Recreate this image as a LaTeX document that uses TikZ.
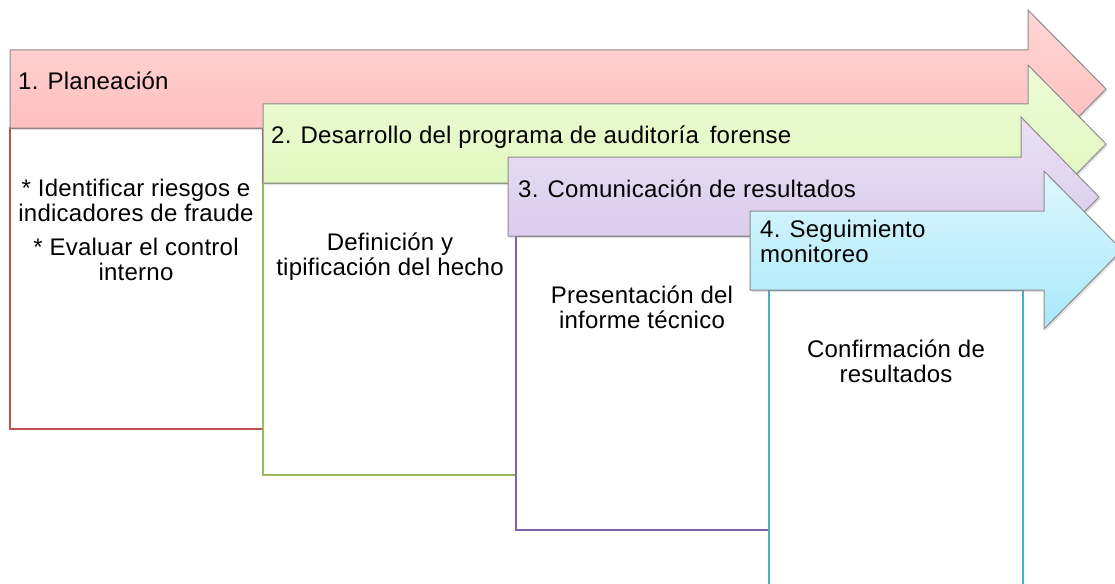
\documentclass[tikz,border=0pt]{standalone}
\usepackage{fontspec}
\setmainfont{Liberation Sans}[LetterSpace=1.0]
\usetikzlibrary{shadows}
\definecolor{arrowgrey}{RGB}{140,140,140}
\definecolor{redtop}{RGB}{255,214,214}
\definecolor{redbot}{RGB}{255,184,184}
\definecolor{greentop}{RGB}{238,252,216}
\definecolor{greenbot}{RGB}{220,246,184}
\definecolor{purpletop}{RGB}{234,224,244}
\definecolor{purplebot}{RGB}{214,198,234}
\definecolor{bluetop}{RGB}{222,247,253}
\definecolor{bluebot}{RGB}{168,232,250}
\definecolor{redline}{RGB}{192,80,77}
\definecolor{greenline}{RGB}{155,187,89}
\definecolor{purpleline}{RGB}{128,100,162}
\definecolor{blueline}{RGB}{75,172,198}
\begin{document}
\begin{tikzpicture}[x=1pt,y=-1pt,
  arrowshape/.style={draw=arrowgrey, line width=1pt, line join=miter,
    drop shadow={opacity=0.25, shadow xshift=1.5pt, shadow yshift=-2pt}},
  stagebox/.style={fill=white, line width=1.2pt},
  boxbottom/.style={line width=2.2pt},
  titletext/.style={anchor=base west, inner sep=0pt, font=\fontsize{24}{25}\selectfont},
  bodytext/.style={anchor=base, inner sep=0pt, align=center, font=\fontsize{24}{25}\selectfont}]
\useasboundingbox (0,0) rectangle (1115,583);
\clip (0,0) rectangle (1115,583);
\fill[white] (0,0) rectangle (1115,583);

% stage 1
\draw[stagebox, draw=redline] (10,128) rectangle (263,429);
\draw[boxbottom, redline] (10,429) -- (263,429);
\draw[arrowshape, top color=redtop, bottom color=redbot]
  (10,50) -- (1028,50) -- (1028,10) -- (1106,89) -- (1028,168) -- (1028,128) -- (10,128) -- cycle;
\node[titletext] (t1) at (18,90) {1. Planeación};
\node[bodytext] (b1) at (136,280) {* Identificar riesgos e\\indicadores de fraude\\[9pt]* Evaluar el control\\interno};

% stage 2
\draw[stagebox, draw=greenline] (263,183) rectangle (516,475);
\draw[boxbottom, greenline] (263,475) -- (516,475);
\draw[arrowshape, top color=greentop, bottom color=greenbot]
  (263,104) -- (1028,104) -- (1028,65) -- (1106,144) -- (1028,223) -- (1028,183) -- (263,183) -- cycle;
\node[titletext] (t2) at (271,143) {2. Desarrollo del programa de auditoría\, forense};
\node[bodytext] (b2) at (390,275) {Definición y\\tipificación del hecho};

% stage 3
\draw[stagebox, draw=purpleline] (516,236) rectangle (770,530);
\draw[boxbottom, purpleline] (516,530) -- (770,530);
\draw[arrowshape, top color=purpletop, bottom color=purplebot]
  (508,157) -- (1021,157) -- (1021,117) -- (1099,197) -- (1021,276) -- (1021,236) -- (508,236) -- cycle;
\node[titletext] (t3) at (518,197) {3. Comunicación de resultados};
\node[bodytext] (b3) at (642,328) {Presentación del\\informe técnico};

% stage 4
\draw[stagebox, draw=blueline] (769,290) rectangle (1023,600);
\draw[arrowshape, top color=bluetop, bottom color=bluebot]
  (750,211) -- (1044,211) -- (1044,171) -- (1122,250) -- (1044,329) -- (1044,290) -- (750,290) -- cycle;
\node[titletext, align=left] (t4) at (760,262) {4. Seguimiento\\monitoreo};
\node[bodytext] (b4) at (896,382) {Confirmación de\\resultados};
\end{tikzpicture}
\end{document}
